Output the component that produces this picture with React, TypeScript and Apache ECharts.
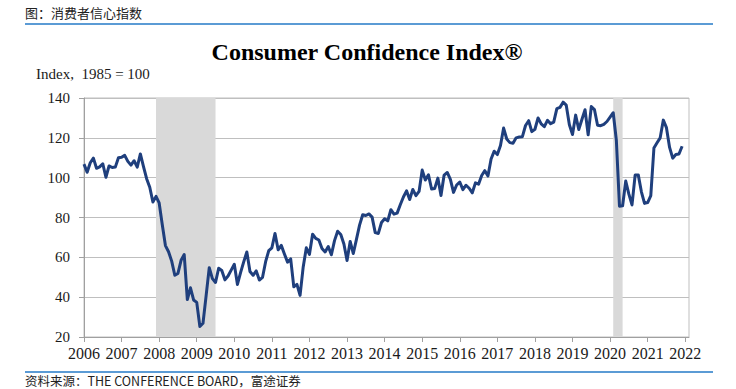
import React, { useEffect, useRef } from "react";
import * as echarts from "echarts";

// ---- Data (Consumer Confidence Index, 1985 = 100, monthly) ----
const dataStartYear = 2006;
const cci2006 = [106.8, 102.7, 107.5, 109.8, 104.7, 105.4, 107.0, 100.2, 105.9, 105.1, 105.3, 110.0];
const cci2007 = [110.2, 111.2, 108.2, 106.3, 108.5, 105.3, 111.9, 105.6, 99.5, 95.2, 87.8, 90.6];
const cci2008 = [87.3, 76.4, 65.9, 62.8, 58.1, 51.0, 51.9, 58.5, 61.4, 38.8, 44.7, 38.6];
const cci2009 = [37.4, 25.3, 26.9, 40.8, 54.8, 49.3, 47.4, 54.5, 53.4, 48.7, 50.6, 53.6];
const cci2010 = [56.5, 46.4, 52.3, 57.7, 62.7, 52.9, 51.0, 53.2, 48.6, 49.9, 57.8, 63.4];
const cci2011 = [64.8, 72.0, 63.8, 66.0, 61.7, 57.6, 59.2, 45.2, 46.4, 40.9, 55.2, 64.8];
const cci2012 = [61.5, 71.6, 69.5, 68.7, 64.4, 62.7, 65.4, 61.3, 68.4, 73.1, 71.5, 66.7];
const cci2013 = [58.4, 68.0, 61.9, 69.0, 76.2, 81.4, 81.0, 81.8, 80.2, 72.4, 72.0, 77.5];
const cci2014 = [79.4, 78.3, 83.9, 81.7, 82.2, 86.4, 90.3, 93.4, 89.0, 94.1, 91.0, 93.1];
const cci2015 = [103.8, 98.8, 101.4, 94.3, 94.6, 99.8, 91.0, 101.3, 102.6, 99.1, 92.6, 96.3];
const cci2016 = [97.8, 94.0, 96.2, 94.7, 92.4, 97.4, 96.7, 101.1, 103.5, 100.8, 109.4, 113.3];
const cci2017 = [111.6, 116.1, 124.9, 119.4, 117.6, 117.3, 120.0, 120.4, 120.6, 126.2, 128.6, 123.1];
const cci2018 = [124.3, 130.0, 127.0, 125.6, 128.8, 127.1, 127.9, 134.7, 135.3, 137.9, 136.4, 126.6];
const cci2019 = [121.7, 131.4, 124.2, 129.2, 134.1, 121.5, 135.7, 134.2, 126.3, 126.1, 126.8, 128.2];
const cci2020 = [130.4, 132.6, 118.8, 85.7, 85.9, 98.3, 91.7, 86.3, 101.3, 101.4, 92.9, 87.1];
const cci2021 = [87.5, 91.0, 114.9, 117.5, 120.0, 128.9, 125.1, 115.2, 109.8, 111.6, 111.9, 115.8];

const cciByYear = [
  cci2006, cci2007, cci2008, cci2009, cci2010, cci2011, cci2012, cci2013,
  cci2014, cci2015, cci2016, cci2017, cci2018, cci2019, cci2020, cci2021,
];

const xTickYears = [2006, 2007, 2008, 2009, 2010, 2011, 2012, 2013, 2014, 2015, 2016, 2017, 2018, 2019, 2020, 2021, 2022];
const yMin = 20;
const yMax = 140;
const yStep = 20;

// recession periods (first month, last month)
const recessions = [
  ["2007-12", "2009-06"],
  ["2020-02", "2020-04"],
];

const pageTitle = "图：消费者信心指数";
const chartTitle = "Consumer Confidence Index®";
const unitLabel = "Index,  1985 = 100";
const sourceText = "资料来源：THE CONFERENCE BOARD，富途证券";

function monthStart(s: string) {
  const [y, m] = s.split("-").map(Number);
  return y + (m - 1) / 12;
}
function monthEnd(s: string) {
  const [y, m] = s.split("-").map(Number);
  return y + m / 12;
}

export default function App() {
  const ref = useRef<HTMLDivElement>(null);

  useEffect(() => {
    if (!ref.current) return;
    const chart = echarts.init(ref.current, undefined, { renderer: "svg" });

    const seriesData: [number, number][] = [];
    cciByYear.forEach((vals, yi) => {
      vals.forEach((v, mi) => {
        seriesData.push([dataStartYear + yi + mi / 12, v]);
      });
    });

    const serif = "'Liberation Serif', 'Times New Roman', serif";
    const sans = "'Noto Sans CJK SC', 'Noto Sans', sans-serif";

    chart.setOption({
      animation: false,
      backgroundColor: "#ffffff",
      grid: {
        left: 84,
        top: 98,
        width: 605,
        height: 239,
        show: true,
        borderColor: "#bfbfbf",
        borderWidth: 1,
        backgroundColor: "transparent",
        outerBoundsMode: "none",
      },
      xAxis: {
        type: "value",
        min: 2006,
        max: 2022.1,
        splitLine: { show: false },
        axisLine: { show: true, lineStyle: { color: "#a0a0a0", width: 1 } },
        axisTick: { show: true, length: 5, lineStyle: { color: "#a0a0a0" }, customValues: xTickYears },
        axisLabel: {
          customValues: xTickYears,
          formatter: (v: number) => String(Math.round(v)),
          fontFamily: serif,
          fontSize: 16,
          color: "#1a1a1a",
          margin: 8,
        },
      },
      yAxis: {
        type: "value",
        min: yMin,
        max: yMax,
        interval: yStep,
        splitLine: { show: true, lineStyle: { color: "#bfbfbf", width: 1 } },
        axisLine: { show: true, lineStyle: { color: "#a0a0a0", width: 1 } },
        axisTick: { show: true, length: 5, lineStyle: { color: "#a0a0a0" } },
        axisLabel: {
          fontFamily: serif,
          fontSize: 15,
          color: "#1a1a1a",
          margin: 14,
        },
      },
      series: [
        {
          type: "line",
          data: seriesData,
          showSymbol: false,
          symbol: "none",
          lineStyle: { color: "#1f3f7d", width: 3, join: "round" },
          z: 3,
          markArea: {
            silent: true,
            itemStyle: { color: "#d9d9d9", opacity: 1 },
            data: recessions.map((r) => [
              { xAxis: monthStart(r[0]) },
              { xAxis: monthEnd(r[1]) },
            ]),
          },
        },
      ],
      graphic: [
        {
          type: "text",
          x: 25,
          y: 12.5,
          style: {
            text: pageTitle,
            fontFamily: sans,
            fontSize: 13,
            fill: "#222",
            textVerticalAlign: "middle",
          },
        },
        {
          type: "line",
          shape: { x1: 25, y1: 24, x2: 713, y2: 24 },
          style: { stroke: "#5b9bd5", lineWidth: 2 },
        },
        {
          type: "text",
          x: 367,
          y: 52,
          style: {
            text: chartTitle,
            fontFamily: serif,
            fontSize: 24,
            fontWeight: "bold",
            fill: "#000",
            textAlign: "center",
            textVerticalAlign: "middle",
          },
        },
        {
          type: "text",
          x: 36,
          y: 74,
          style: {
            text: unitLabel,
            fontFamily: serif,
            fontSize: 15,
            fill: "#1a1a1a",
            textVerticalAlign: "middle",
          },
        },
        {
          type: "line",
          shape: { x1: 25, y1: 372, x2: 713, y2: 372 },
          style: { stroke: "#5b9bd5", lineWidth: 2 },
        },
        {
          type: "text",
          x: 25,
          y: 380,
          style: {
            text: sourceText,
            fontFamily: sans,
            fontSize: 12.5,
            fill: "#222",
            textVerticalAlign: "middle",
          },
        },
      ],
    });

    return () => chart.dispose();
  }, []);

  return (
    <div
      ref={ref}
      style={{ position: "fixed", left: 0, top: 0, width: 736, height: 389 }}
    />
  );
}
